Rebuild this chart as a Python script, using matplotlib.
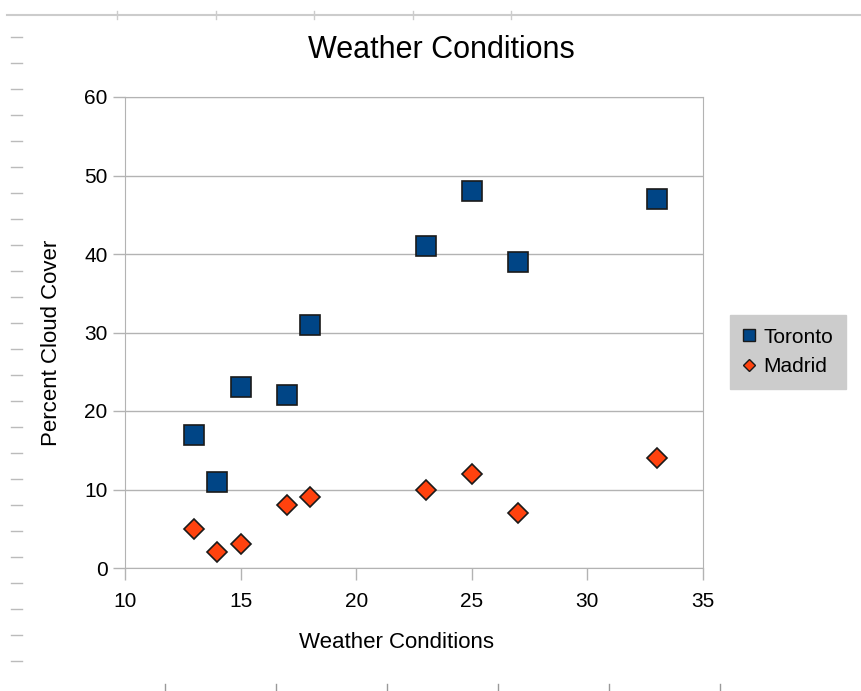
import matplotlib.pyplot as plt
from matplotlib.lines import Line2D

plt.rcParams["font.family"] = ["Liberation Sans", "DejaVu Sans"]

# data
x_vals = [13, 14, 15, 17, 18, 23, 25, 27, 33]
toronto = [17, 11, 23, 22, 31, 41, 48, 39, 47]
madrid = [5, 2, 3, 8, 9, 10, 12, 7, 14]
x_ticks = [10, 15, 20, 25, 30, 35]
y_ticks = [0, 10, 20, 30, 40, 50, 60]

fig = plt.figure(figsize=(8.62, 6.91), dpi=100)
W, H = 862, 691

# page decorations (ruler marks of the screenshot)
deco = fig.add_axes([0, 0, 1, 1], zorder=-1)
deco.set_xlim(0, W)
deco.set_ylim(H, 0)
deco.axis("off")
deco.plot([7, W], [15, 15], color="#cccccc", lw=1.5)
for xr in [117, 216, 314, 413, 511]:
    deco.plot([xr, xr], [11, 19], color="#cccccc", lw=1)
for yr in range(37, 680, 26):
    deco.plot([11, 22], [yr, yr], color="#bbbbbb", lw=1)
for xr in [165, 276, 387, 498, 609, 720]:
    deco.plot([xr, xr], [684, 691], color="#999999", lw=1)

ax = fig.add_axes([125 / W, 1 - 568 / H, (703 - 125) / W, (568 - 97) / H])
ax.plot(x_vals, toronto, linestyle="none", marker="s", markersize=14,
        markerfacecolor="#004586", markeredgecolor="#1a1a1a", markeredgewidth=1.2,
        label="Toronto", zorder=3)
ax.plot(x_vals, madrid, linestyle="none", marker="D", markersize=10,
        markerfacecolor="#ff420e", markeredgecolor="#1a1a1a", markeredgewidth=1.2,
        label="Madrid", zorder=3)

ax.set_xlim(10, 35)
ax.set_ylim(0, 60)
ax.set_xticks(x_ticks)
ax.set_yticks(y_ticks)
ax.yaxis.grid(True, color="#b3b3b3", lw=1)
ax.set_axisbelow(True)
for s in ax.spines.values():
    s.set_color("#b3b3b3")
ax.tick_params(axis="both", colors="#b3b3b3", length=8.6, width=1, labelsize=15,
               labelcolor="black", pad=4)
ax.tick_params(axis="x", pad=9)

# title and axis labels sit where the office chart put them, not centred on the axes
fig.text(441 / W, 1 - 50 / H, "Weather Conditions", fontsize=22,
         ha="center", va="center")
fig.text(397 / W, 1 - 642 / H, "Weather Conditions", fontsize=16,
         ha="center", va="center")
fig.text(52 / W, 1 - 343 / H, "Percent Cloud Cover", fontsize=16,
         ha="center", va="center", rotation=90)

handles = [
    Line2D([], [], linestyle="none", marker="s", markersize=8,
           markerfacecolor="#004586", markeredgecolor="#1a1a1a"),
    Line2D([], [], linestyle="none", marker="D", markersize=6,
           markerfacecolor="#ff420e", markeredgecolor="#1a1a1a"),
]
leg = fig.legend(handles, ["Toronto", "Madrid"], loc="center left",
                 bbox_to_anchor=(730 / W, 1 - 352 / H), frameon=True,
                 fancybox=False, fontsize=15, handlelength=0.6,
                 handletextpad=0.4, borderpad=0.6, labelspacing=0.5,
                 borderaxespad=0)
leg.get_frame().set_facecolor("#cccccc")
leg.get_frame().set_edgecolor("#cccccc")
leg.get_frame().set_alpha(1)

fig.savefig("out.png", dpi=100)
